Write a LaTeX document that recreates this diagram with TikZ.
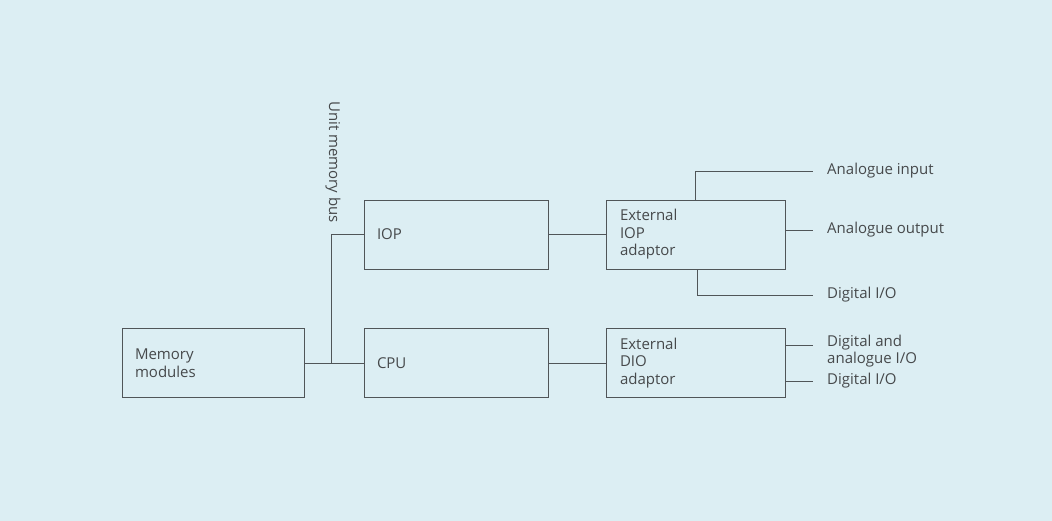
\documentclass[tikz,border=0pt]{standalone}
\usepackage{fontspec}
\setmainfont{Open Sans}
\usetikzlibrary{positioning,calc}
\definecolor{paleblue}{HTML}{DCEEF3}
\definecolor{inkgrey}{HTML}{505558}
\definecolor{textgrey}{HTML}{46494B}

\begin{document}
\begin{tikzpicture}[x=1pt,y=-1pt,
  unitbox/.style={draw=inkgrey, line width=0.8pt, rectangle, minimum height=69pt,
    inner xsep=13pt, inner ysep=0pt, align=left, text=textgrey,
    font=\fontsize{15}{17.5}\selectfont},
  wire/.style={draw=inkgrey, line width=0.8pt},
  sigtext/.style={anchor=west, inner xsep=14pt, inner ysep=0pt, align=left, text=textgrey,
    font=\fontsize{15}{16.5}\selectfont}]
% background
\fill[paleblue] (0,0) rectangle (1052,521);
\useasboundingbox (0,0) rectangle (1052,521);

% processing units
\node[unitbox, text width=156pt] (mem) at (213,363) {Memory\\modules};
\node[unitbox, text width=158pt] (iop) at (456,234.5) {IOP};
\node[unitbox, text width=158pt] (cpu) at (456,363) {CPU};
\node[unitbox, text width=151pt, inner xsep=14pt] (extiop) at (695.5,234.5) {External\\IOP\\adaptor};
\node[unitbox, text width=151pt, inner xsep=14pt] (extdio) at (695.5,363) {External\\DIO\\adaptor};

% unit memory bus
\coordinate (bustop) at (331,234.5);
\coordinate (busbot) at (331,363);
\node[rotate=-90, anchor=east, inner sep=0pt, text=textgrey, font=\fontsize{15}{17}\selectfont]
  (busname) at (333,223) {Unit memory bus};
\draw[wire] (mem.east) -- (cpu.west);
\draw[wire] (iop.west) -- (bustop) -- (busbot);

% unit to adaptor links
\draw[wire] (iop.east) -- (extiop.west);
\draw[wire] (cpu.east) -- (extdio.west);

% IOP adaptor signals
\node[sigtext] (ain) at (813,171) {Analogue input};
\node[sigtext] (aout) at (813,230) {Analogue output};
\node[sigtext] (dio1) at (813,295) {Digital I/O};
\draw[wire] (extiop.north) |- (ain.west);
\draw[wire] (extiop.east |- aout.west) -- (aout.west);
\draw[wire] ([xshift=2pt]extiop.south) |- (dio1.west);

% DIO adaptor signals
\node[sigtext] (mixio) at (813,351) {Digital and\\analogue I/O};
\node[sigtext] (dio2) at (813,381) {Digital I/O};
\draw[wire] (extdio.east |- 0,345) -- (813,345);
\draw[wire] (extdio.east |- dio2.west) -- (dio2.west);
\end{tikzpicture}
\end{document}
